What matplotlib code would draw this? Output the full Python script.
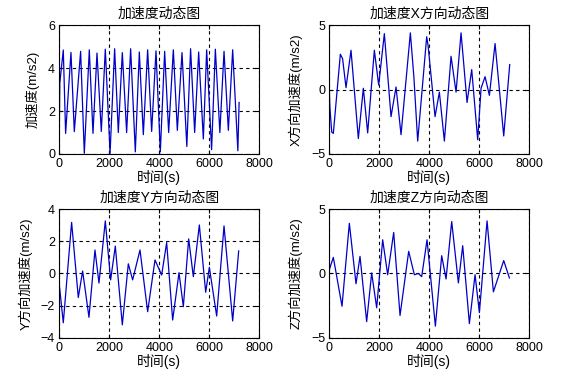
import matplotlib
matplotlib.use("Agg")
import matplotlib.pyplot as plt

plt.rcParams['font.family'] = ['Liberation Sans', 'Noto Sans CJK SC', 'DejaVu Sans']

# total acceleration: turning points (time s, value m/s2)
t_all = [0, 20, 160, 253, 467, 600, 853, 1000, 1200, 1347, 1507, 1680, 1840, 2030,
         2213, 2360, 2520, 2693, 2853, 3040, 3200, 3360, 3533, 3693, 3867, 4040,
         4213, 4373, 4560, 4720, 4907, 5100, 5250, 5413, 5573, 5760, 5893, 6090,
         6240, 6420, 6587, 6760, 6933, 7140, 7190]
a_all = [1.1, 3.3, 4.84, 0.96, 4.73, 1.04, 4.78, 0.03, 4.85, 0.96, 4.7, 1.05, 4.88, 0.03,
         4.9, 1.0, 4.72, 1.0, 4.9, 0.1, 4.75, 0.9, 4.85, 1.05, 4.8, 0.1,
         4.78, 1.0, 4.85, 1.1, 4.72, 0.35, 4.9, 1.0, 4.75, 0.7, 4.85, 0.2,
         4.88, 1.0, 4.78, 1.1, 4.85, 0.15, 2.4]

# X direction
t_x = [0, 20, 95, 160, 440, 530, 667, 867, 1160, 1360, 1533, 1800, 1973, 2200,
       2467, 2667, 2867, 3240, 3380, 3533, 3893, 3950, 4227, 4400, 4600, 4867,
       5067, 5267, 5507, 5693, 5933, 6067, 6227, 6400, 6627, 6973, 7213]
a_x = [0.0, -1.3, -3.3, -3.4, 2.74, 2.4, 0.15, 3.05, -3.8, 0.1, -3.36, 3.05, 0.35, 4.34,
       -2.1, 0.2, -3.5, 4.4, 1.0, -4.0, 4.1, 3.4, -2.1, -0.2, -4.0, 2.58,
       -0.2, 4.4, -1.0, 1.55, -3.9, 0.1, 1.0, -0.45, 3.57, -3.6, 1.94]

# Y direction
t_y = [0, 160, 493, 760, 933, 1187, 1427, 1587, 1840, 2053, 2240, 2520, 2760, 2933,
       3227, 3533, 3827, 4093, 4293, 4533, 4787, 4960, 5173, 5360, 5600, 5853,
       6000, 6293, 6587, 6933, 7173]
a_y = [-0.7, -3.07, 3.18, -1.5, 0.15, -2.73, 1.46, -0.6, 3.27, -0.4, 1.7, -3.2, 0.6, -0.4,
       1.46, -2.38, 0.84, -0.1, 1.92, -2.9, 0.05, -2.07, 2.15, -0.2, 3.02, -1.17,
       0.38, -2.65, 2.96, -2.96, 1.4]

# Z direction
t_z = [0, 160, 507, 800, 1067, 1227, 1493, 1693, 1893, 2133, 2333, 2573, 2827, 3173,
       3400, 3560, 3693, 3907, 4240, 4493, 4667, 4893, 5160, 5333, 5600, 5827,
       6000, 6307, 6560, 6973, 7200]
a_z = [0.3, 1.25, -2.55, 3.9, -0.8, 1.33, -3.75, 0.04, -2.67, 2.62, -0.1, 3.19, -3.27, 1.72,
       -0.1, 0.0, -0.25, 2.62, -4.1, 1.38, -0.43, 4.04, -0.74, 2.16, -3.9, -0.1,
       -3.05, 4.09, -1.43, 1.0, -0.35]

panels = [
    (t_all, a_all, '加速度动态图', '加速度(m/s2)', [0, 6], [0, 2, 4, 6]),
    (t_x, a_x, '加速度X方向动态图', 'X方向加速度(m/s2)', [-5, 5], [-5, 0, 5]),
    (t_y, a_y, '加速度Y方向动态图', 'Y方向加速度(m/s2)', [-4, 4], [-4, -2, 0, 2, 4]),
    (t_z, a_z, '加速度Z方向动态图', 'Z方向加速度(m/s2)', [-5, 5], [-5, 0, 5]),
]
positions = [[0.1055, 0.5937, 0.356, 0.340], [0.586, 0.5937, 0.356, 0.340],
             [0.1055, 0.109, 0.356, 0.339], [0.586, 0.109, 0.356, 0.339]]

fig = plt.figure(figsize=(5.62, 3.79), dpi=100)
for (t, a, title, ylab, ylim, yticks), pos in zip(panels, positions):
    ax = fig.add_axes(pos)
    ax.plot(t, a, color='#0000c8', lw=0.9)
    ax.set_xlim(0, 8000)
    ax.set_ylim(ylim)
    ax.set_xticks([0, 2000, 4000, 6000, 8000])
    ax.set_yticks(yticks)
    ax.grid(True, color='black', linestyle=(0, (3, 3)), lw=0.8)
    ax.tick_params(direction='in', length=3, labelsize=9, top=True, right=True, pad=3)
    ax.set_title(title, fontsize=10, pad=5)
    ax.set_xlabel('时间(s)', fontsize=10, labelpad=0)
    ax.set_ylabel(ylab, fontsize=9.5, labelpad=6)
    for s in ax.spines.values():
        s.set_linewidth(0.8)

fig.savefig('out.png', dpi=100)
